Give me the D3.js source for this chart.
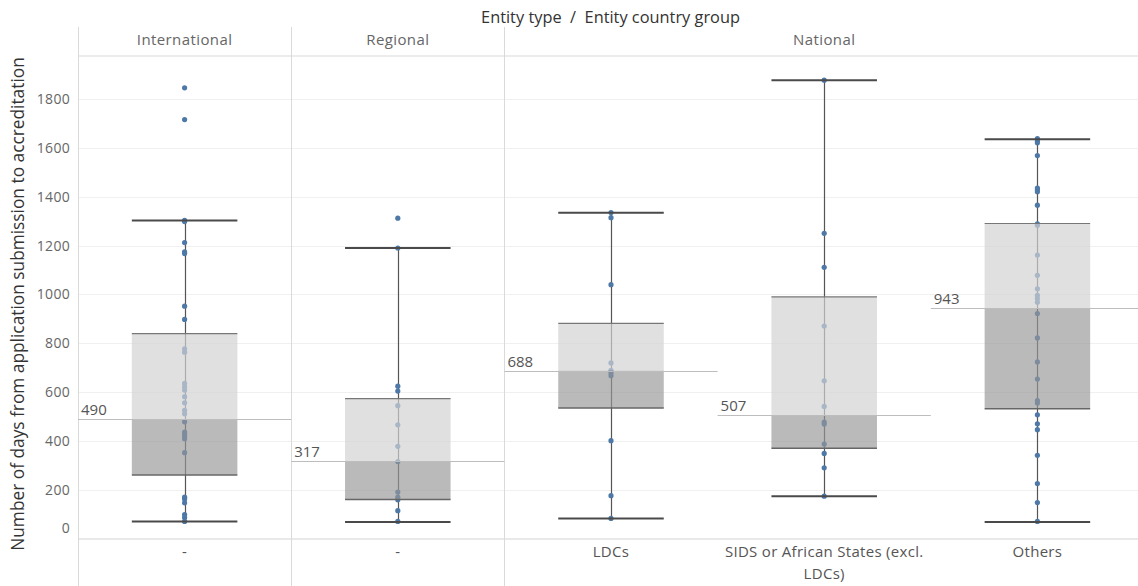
<!DOCTYPE html>
<html>
<head>
<meta charset="utf-8">
<script src="https://cdn.jsdelivr.net/npm/d3@7"></script>
<style>
  html, body { margin: 0; padding: 0; background: #fff; }
  svg { display: block; font-family: "Open Sans", "Lato", sans-serif; }
</style>
</head>
<body>
<svg id="chart" width="1138" height="586"></svg>
<script>
// ---- data ----
const entityTypes = ["International", "Regional", "National"];
const columnType = ["International", "Regional", "National", "National", "National"];
const columnGroup = ["-", "-", "LDCs", "SIDS or African States (excl. LDCs)", "Others"];
const yTicks = [0, 200, 400, 600, 800, 1000, 1200, 1400, 1600, 1800];

const lowerWhisker = [72, 70, 84, 175, 70];
const q1 = [262, 162, 536, 371, 533];
const median = [490, 317, 688, 507, 943];
const q3 = [840, 574, 882, 990, 1290];
const upperWhisker = [1302, 1190, 1334, 1876, 1635];

const pointsInternational = [1845, 1715, 1303, 1298, 1212, 1174, 1167, 952, 898, 778, 764, 636, 622, 609, 582, 557, 526, 512, 479, 437, 427, 419, 410, 353, 171, 164, 148, 100, 88, 72];
const pointsRegional = [1312, 1190, 625, 605, 545, 467, 379, 317, 192, 171, 160, 116, 72];
const pointsLDCs = [1335, 1314, 1040, 720, 690, 680, 668, 402, 177, 84];
const pointsSIDS = [1876, 1250, 1111, 871, 647, 542, 478, 470, 388, 350, 291, 175];
const pointsOthers = [1637, 1627, 1620, 1568, 1435, 1428, 1420, 1365, 1289, 1283, 1161, 1078, 1023, 996, 982, 968, 922, 822, 724, 654, 566, 556, 508, 471, 447, 342, 227, 149, 72];
const pointSets = [pointsInternational, pointsRegional, pointsLDCs, pointsSIDS, pointsOthers];

// ---- layout ----
const svg = d3.select("#chart");
const plotLeft = 78, plotRight = 1144, plotTop = 56, plotBottom = 539, headerTop = 27;
const colIdx = d3.range(columnGroup.length);
const x = d3.scaleBand().domain(colIdx).range([plotLeft, plotRight]).padding(0);
const y = d3.scaleLinear().domain([0, 1975]).range([plotBottom, plotTop]);
const bw = x.bandwidth();
const boxW = bw * 0.495;

const gridColor = "#f0f0f0", divColor = "#dadada";

// fit a text element to a target width by adjusting font size
function fitWidth(sel, target) {
  const node = sel.node();
  const w = node.getComputedTextLength();
  const fs = parseFloat(sel.attr("font-size"));
  if (w > 0) sel.attr("font-size", (fs * target / w).toFixed(2));
}

// gridlines
svg.append("g").selectAll("line").data(yTicks.filter(d => d > 0)).join("line")
  .attr("x1", plotLeft).attr("x2", 1138)
  .attr("y1", d => Math.round(y(d)) + 0.5).attr("y2", d => Math.round(y(d)) + 0.5)
  .attr("stroke", gridColor).attr("stroke-width", 1);

// header bottom line and axis line
svg.append("line").attr("x1", plotLeft).attr("x2", 1138).attr("y1", plotTop).attr("y2", plotTop)
  .attr("stroke", "#ececec").attr("stroke-width", 2);
svg.append("line").attr("x1", plotLeft).attr("x2", 1138).attr("y1", plotBottom).attr("y2", plotBottom)
  .attr("stroke", "#e2e2e2").attr("stroke-width", 1.5);

// vertical dividers (between entity types)
const typeStart = entityTypes.map(t => columnType.indexOf(t));
const typeEnd = entityTypes.map(t => columnType.lastIndexOf(t));
svg.append("g").selectAll("line").data(typeStart).join("line")
  .attr("x1", d => Math.round(x(d)) + 0.5).attr("x2", d => Math.round(x(d)) + 0.5)
  .attr("y1", headerTop).attr("y2", 586)
  .attr("stroke", divColor).attr("stroke-width", 1);

// top title
const title = svg.append("text").attr("x", 610.5).attr("y", 19)
  .attr("text-anchor", "middle").attr("dominant-baseline", "middle")
  .attr("font-size", 15).attr("fill", "#333")
  .style("white-space", "pre")
  .text("Entity type\u00a0\u00a0/\u00a0\u00a0Entity country group");
fitWidth(title, 259);

// panel titles
svg.append("g").selectAll("text").data(entityTypes).join("text")
  .attr("x", (d, i) => (x(typeStart[i]) + x(typeEnd[i]) + bw) / 2)
  .attr("y", 41).attr("text-anchor", "middle").attr("dominant-baseline", "middle")
  .attr("font-size", 15).attr("fill", "#666").attr("letter-spacing", 0.4).text(d => d);

// y axis
const yAxis = d3.axisLeft(y).tickValues(yTicks).tickFormat(d3.format("d")).tickSize(0).tickPadding(8);
const ax = svg.append("g").attr("transform", `translate(${plotLeft},0)`).call(yAxis);
ax.select(".domain").remove();
ax.selectAll("text").attr("font-family", "'Open Sans', sans-serif").attr("font-size", 14).attr("fill", "#666")
  .attr("letter-spacing", 0.3)
  .attr("dy", d => d === 0 ? "-0.45em" : "0.32em");

// y axis title
const yTitle = svg.append("text")
  .attr("transform", `translate(19,${(plotTop + 552) / 2}) rotate(-90)`)
  .attr("text-anchor", "middle").attr("dominant-baseline", "middle")
  .attr("font-size", 15.5).attr("fill", "#333")
  .text("Number of days from application submission to accreditation");
fitWidth(yTitle, 494);

// x category labels (wrapped)
const catG = svg.append("g");
colIdx.forEach(i => {
  const cx = x(i) + bw / 2;
  const words = columnGroup[i].split(" ");
  const lines = [];
  let cur = "";
  words.forEach(w => {
    const test = cur ? cur + " " + w : w;
    if (test.length > 30 && cur) { lines.push(cur); cur = w; } else cur = test;
  });
  lines.push(cur);
  lines.forEach((ln, k) => {
    catG.append("text").attr("x", cx).attr("y", 553 + k * 22)
      .attr("text-anchor", "middle").attr("dominant-baseline", "middle")
      .attr("font-size", 15).attr("fill", "#555").attr("letter-spacing", 0.3).text(ln);
  });
});

// whiskers (vertical)
const whiskG = svg.append("g");
colIdx.forEach(i => {
  const cx = Math.round(x(i) + bw / 2) + 0.5;
  whiskG.append("line").attr("x1", cx).attr("x2", cx)
    .attr("y1", y(lowerWhisker[i])).attr("y2", y(upperWhisker[i]))
    .attr("stroke", "#555").attr("stroke-width", 1.2);
});

// points
const ptG = svg.append("g");
colIdx.forEach(i => {
  const cx = x(i) + bw / 2;
  ptG.selectAll(null).data(pointSets[i]).join("circle")
    .attr("cx", cx).attr("cy", d => y(d)).attr("r", 2.6)
    .attr("fill", "#4e79a7");
});

// boxes (semi-transparent, drawn over points)
const boxG = svg.append("g");
colIdx.forEach(i => {
  const bx = x(i) + (bw - boxW) / 2;
  boxG.append("rect").attr("x", bx).attr("width", boxW)
    .attr("y", y(q3[i])).attr("height", y(median[i]) - y(q3[i]))
    .attr("fill", "rgb(210,210,210)").attr("fill-opacity", 0.69);
  boxG.append("rect").attr("x", bx).attr("width", boxW)
    .attr("y", y(median[i])).attr("height", y(q1[i]) - y(median[i]))
    .attr("fill", "rgb(150,150,150)").attr("fill-opacity", 0.657);
  boxG.append("line").attr("x1", bx).attr("x2", bx + boxW)
    .attr("y1", y(q3[i])).attr("y2", y(q3[i])).attr("stroke", "#777").attr("stroke-width", 1.2);
  boxG.append("line").attr("x1", bx).attr("x2", bx + boxW)
    .attr("y1", y(q1[i])).attr("y2", y(q1[i])).attr("stroke", "#666").attr("stroke-width", 1.5);
  // caps
  [lowerWhisker[i], upperWhisker[i]].forEach(v => {
    boxG.append("line").attr("x1", bx).attr("x2", bx + boxW)
      .attr("y1", y(v)).attr("y2", y(v)).attr("stroke", "#4a4a4a").attr("stroke-width", 2);
  });
});

// median reference lines + labels
const medG = svg.append("g");
colIdx.forEach(i => {
  const my = Math.round(y(median[i])) + 0.5;
  medG.append("line").attr("x1", x(i)).attr("x2", x(i) + bw)
    .attr("y1", my).attr("y2", my).attr("stroke", "#bdbdbd").attr("stroke-width", 1);
  medG.append("text").attr("x", x(i) + 3).attr("y", my - 5)
    .attr("font-size", 15).attr("fill", "#555").text(d3.format("d")(median[i]));
});
</script>
</body>
</html>
